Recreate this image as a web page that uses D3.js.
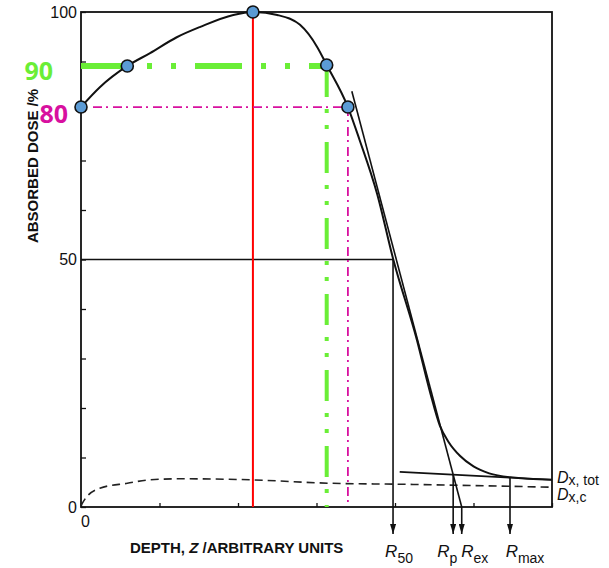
<!DOCTYPE html>
<html>
<head>
<meta charset="utf-8">
<script src="https://cdn.jsdelivr.net/npm/d3@7"></script>
<style>
  body { margin: 0; background: #fff; }
  svg { font-family: "Liberation Sans", Arial, sans-serif; }
</style>
</head>
<body>
<div id="chart"></div>
<script>
// depth-dose curve (depth in arbitrary units, dose in %)
const doseDepth = [0, 0.24, 0.59, 0.88, 1.22, 1.52, 1.94, 2.19, 2.50, 2.79, 3.01, 3.13, 3.40, 3.55, 3.77, 3.98, 4.28, 4.45, 4.57, 4.68, 4.83, 5.0, 5.2, 5.47, 6.0];
const doseValue = [80.8, 84.8, 89.1, 91.7, 94.9, 97.0, 99.4, 100, 99.4, 97.4, 92.9, 89.3, 80.8, 74.1, 63.4, 49.9, 33.7, 23.0, 16.5, 13.2, 10.3, 8.2, 6.8, 6.0, 5.5];

// photon contamination (dashed) D_x,c
const bgDepth = [0, 0.05, 0.24, 0.59, 0.88, 1.26, 2.15, 3.17, 4.06, 6.0];
const bgValue = [0.3, 1.6, 3.8, 4.8, 5.5, 5.7, 5.5, 4.8, 4.6, 4.0];

// extrapolated bremsstrahlung tail D_x,tot
const tailDepth = [4.06, 6.0];
const tailValue = [7.1, 5.5];

// tangent through the steep fall-off
const tangentDepth = [3.45, 4.85];
const tangentValue = [84, 0];

// marked points on the curve
const markDepth = [0, 0.59, 2.19, 3.13, 3.40];
const markValue = [80.8, 89.1, 100, 89.3, 80.8];

// reference levels
const level90 = 89.1, r90 = 3.13;
const level80 = 80.8, r80 = 3.40;
const r100 = 2.19;
const r50 = 3.975;
const rmax = 5.465;

const yTicks = [0, 10, 20, 30, 40, 50, 60, 70, 80, 90, 100];
const yTickLabels = [0, 50, 100];
const xTicks = [0, 1, 2, 3, 4, 5, 6];

const W = 609, H = 568;
const svg = d3.select("#chart").append("svg")
    .attr("width", W).attr("height", H);

const x = d3.scaleLinear().domain([0, 6]).range([81, 552]);
const y = d3.scaleLinear().domain([0, 100]).range([507, 12]);

const green = "#6aee36", magenta = "#d8109f";

// frame
svg.append("rect")
    .attr("x", x(0)).attr("y", y(100))
    .attr("width", x(6) - x(0)).attr("height", y(0) - y(100))
    .attr("fill", "none").attr("stroke", "#111").attr("stroke-width", 1.8);

// axes (ticks inside)
const yAxis = svg.append("g")
    .attr("transform", "translate(" + x(0) + ",0)")
    .call(d3.axisLeft(y).tickValues(yTicks).tickSizeInner(-5).tickSizeOuter(0).tickPadding(4)
        .tickFormat(d => yTickLabels.includes(d) ? d : ""));
yAxis.select(".domain").remove();
yAxis.selectAll("text").attr("font-size", 16).attr("fill", "#111")
    .attr("font-family", "Liberation Sans, Arial, sans-serif");
yAxis.selectAll("line").attr("stroke", "#111").attr("stroke-width", 1.3);

const xAxis = svg.append("g")
    .attr("transform", "translate(0," + y(0) + ")")
    .call(d3.axisBottom(x).tickValues(xTicks).tickSizeInner(-4).tickSizeOuter(0).tickPadding(9)
        .tickFormat(d => d === 0 ? d : ""));
xAxis.select(".domain").remove();
xAxis.selectAll("text").attr("font-size", 16).attr("fill", "#111").attr("dx", 4)
    .attr("font-family", "Liberation Sans, Arial, sans-serif");
xAxis.selectAll("line").attr("stroke", "#111").attr("stroke-width", 1.3);

// 50% line
svg.append("line")
    .attr("x1", x(0)).attr("x2", x(r50))
    .attr("y1", y(50)).attr("y2", y(50))
    .attr("stroke", "#111").attr("stroke-width", 1.3);

// red line at the maximum
svg.append("line")
    .attr("x1", x(r100)).attr("x2", x(r100))
    .attr("y1", y(100)).attr("y2", y(0))
    .attr("stroke", "#ff0000").attr("stroke-width", 2);

// green 90% lines
svg.append("line")
    .attr("x1", x(0)).attr("x2", x(r90))
    .attr("y1", y(level90)).attr("y2", y(level90))
    .attr("stroke", green).attr("stroke-width", 6)
    .attr("stroke-dasharray", "47,19,5,19,5,19");
svg.append("line")
    .attr("x1", x(r90)).attr("x2", x(r90))
    .attr("y1", y(level90)).attr("y2", y(0))
    .attr("stroke", green).attr("stroke-width", 4)
    .attr("stroke-dasharray", "31,12,4,12,4,13");

// magenta 80% lines
svg.append("line")
    .attr("x1", x(0) + 12).attr("x2", x(r80))
    .attr("y1", y(level80)).attr("y2", y(level80))
    .attr("stroke", magenta).attr("stroke-width", 1.8)
    .attr("stroke-dasharray", "9,4,2,5");
svg.append("line")
    .attr("x1", x(r80)).attr("x2", x(r80))
    .attr("y1", y(level80)).attr("y2", y(0))
    .attr("stroke", magenta).attr("stroke-width", 1.8)
    .attr("stroke-dasharray", "9,4,2,5");

// dashed background curve
const bgLine = d3.line().x(d => x(d[0])).y(d => y(d[1])).curve(d3.curveMonotoneX);
svg.append("path")
    .datum(bgDepth.map((d, i) => [d, bgValue[i]]))
    .attr("d", bgLine)
    .attr("fill", "none").attr("stroke", "#222").attr("stroke-width", 1.6)
    .attr("stroke-dasharray", "8,5");

// tail line D_x,tot
svg.append("line")
    .attr("x1", x(tailDepth[0])).attr("x2", x(tailDepth[1]))
    .attr("y1", y(tailValue[0])).attr("y2", y(tailValue[1]))
    .attr("stroke", "#111").attr("stroke-width", 1.6);

// tangent
svg.append("line")
    .attr("x1", x(tangentDepth[0])).attr("x2", x(tangentDepth[1]))
    .attr("y1", y(tangentValue[0])).attr("y2", y(tangentValue[1]))
    .attr("stroke", "#111").attr("stroke-width", 1.6);

// main curve
const line = d3.line().x(d => x(d[0])).y(d => y(d[1])).curve(d3.curveMonotoneX);
svg.append("path")
    .datum(doseDepth.map((d, i) => [d, doseValue[i]]))
    .attr("d", line)
    .attr("fill", "none").attr("stroke", "#111").attr("stroke-width", 2);

// R_p = tangent meets tail line
const tSlope = (tangentValue[1] - tangentValue[0]) / (tangentDepth[1] - tangentDepth[0]);
const bSlope = (tailValue[1] - tailValue[0]) / (tailDepth[1] - tailDepth[0]);
const tail = z => tailValue[0] + bSlope * (z - tailDepth[0]);
const rp = (tailValue[0] - bSlope * tailDepth[0] - tangentValue[0] + tSlope * tangentDepth[0]) / (tSlope - bSlope);
const rex = tangentDepth[1];

// arrows
svg.append("defs").append("marker")
    .attr("id", "arrow")
    .attr("viewBox", "0 0 10 6")
    .attr("refX", 10).attr("refY", 3)
    .attr("markerWidth", 10).attr("markerHeight", 6)
    .attr("markerUnits", "userSpaceOnUse")
    .attr("orient", "auto")
    .append("path").attr("d", "M0,0 L10,3 L0,6 Z").attr("fill", "#111");

const arrows = [
    {name: "R", sub: "50", z: r50, from: 50, dx: 6},
    {name: "R", sub: "p", z: rp, from: tail(rp), dx: -6},
    {name: "R", sub: "ex", z: rex, from: 0, dx: 13},
    {name: "R", sub: "max", z: rmax, from: tail(rmax), dx: 15}
];
svg.selectAll(".arrow")
    .data(arrows)
    .enter().append("line")
    .attr("class", "arrow")
    .attr("x1", d => x(d.z)).attr("x2", d => x(d.z))
    .attr("y1", d => y(d.from)).attr("y2", 534)
    .attr("stroke", "#111").attr("stroke-width", 1.6)
    .attr("marker-end", "url(#arrow)");

const rLabels = svg.selectAll(".rlab")
    .data(arrows)
    .enter().append("text")
    .attr("class", "rlab")
    .attr("x", d => x(d.z) + d.dx).attr("y", 557)
    .attr("text-anchor", "middle")
    .attr("fill", "#111");
rLabels.append("tspan").attr("font-style", "italic").attr("font-size", 17).text(d => d.name);
rLabels.append("tspan").attr("font-size", 14).attr("dy", 6).text(d => d.sub);

// D labels
const dLabels = [
    {sub: "x, tot", v: tailValue[1], dy: 3},
    {sub: "x,c", v: bgValue[bgValue.length - 1], dy: 13}
];
const dl = svg.selectAll(".dlab")
    .data(dLabels)
    .enter().append("text")
    .attr("class", "dlab")
    .attr("x", x(6) + 5).attr("y", d => y(d.v) + d.dy)
    .attr("fill", "#111");
dl.append("tspan").attr("font-style", "italic").attr("font-size", 16).text("D");
dl.append("tspan").attr("font-size", 14).attr("dy", 2).text(d => d.sub);

// marked points
svg.selectAll(".dot")
    .data(markDepth.map((d, i) => [d, markValue[i]]))
    .enter().append("circle")
    .attr("class", "dot")
    .attr("cx", d => x(d[0])).attr("cy", d => y(d[1]))
    .attr("r", 6)
    .attr("fill", "#5b9bd5").attr("stroke", "#111").attr("stroke-width", 1.6);

// coloured level labels
svg.append("text")
    .attr("x", 53).attr("y", y(level90) + 14)
    .attr("text-anchor", "end")
    .attr("font-family", "Open Sans, sans-serif").attr("font-weight", "bold").attr("font-size", 25)
    .attr("fill", green).text("90");
svg.append("text")
    .attr("x", 68).attr("y", y(level80) + 16)
    .attr("text-anchor", "end")
    .attr("font-family", "Open Sans, sans-serif").attr("font-weight", "bold").attr("font-size", 25)
    .attr("fill", magenta).text("80");

// axis titles
const xt = svg.append("text")
    .attr("x", 130).attr("y", 553)
    .attr("font-weight", "bold").attr("font-size", 15).attr("fill", "#111");
xt.append("tspan").text("DEPTH, ");
xt.append("tspan").attr("font-style", "italic").text("Z");
xt.append("tspan").text(" /ARBITRARY UNITS");

svg.append("text")
    .attr("transform", "translate(38,166) rotate(-90)")
    .attr("text-anchor", "middle")
    .attr("font-weight", "bold").attr("font-size", 15).attr("fill", "#111")
    .text("ABSORBED DOSE /%");
</script>
</body>
</html>
